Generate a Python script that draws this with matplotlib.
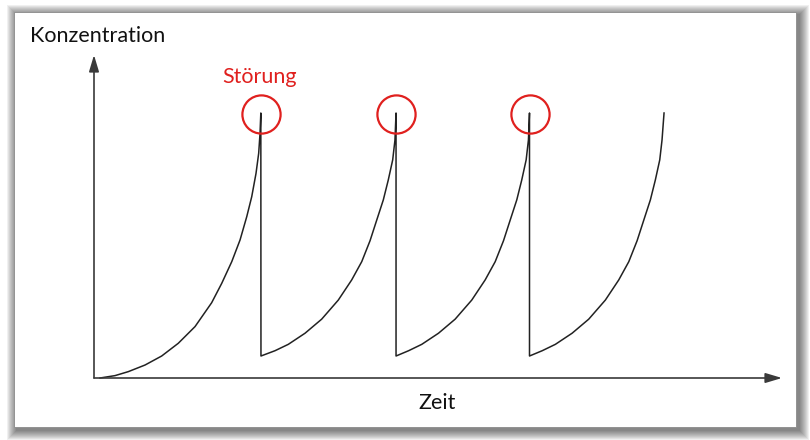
import matplotlib
matplotlib.use("Agg")
import matplotlib.pyplot as plt
from matplotlib.patches import Rectangle

# ---- data (time in periods, concentration relative to peak) ----
seg1_t = [0.045, 0.157, 0.256, 0.381, 0.505, 0.629, 0.754, 0.878, 0.953, 1.028,
          1.090, 1.140, 1.177, 1.209, 1.229, 1.239, 1.245]
seg1_c = [0.0, 0.009, 0.024, 0.049, 0.083, 0.131, 0.194, 0.284, 0.357, 0.439,
          0.521, 0.609, 0.684, 0.772, 0.848, 0.923, 1.0]

seg2_t = [1.246, 1.351, 1.450, 1.575, 1.699, 1.823, 1.923, 1.998, 2.060, 2.110,
          2.159, 2.196, 2.229, 2.246, 2.254]
seg2_c = [0.083, 0.103, 0.127, 0.169, 0.222, 0.294, 0.370, 0.439, 0.518, 0.596,
          0.672, 0.747, 0.823, 0.898, 1.0]

seg3_t = [2.254, 2.348, 2.446, 2.571, 2.695, 2.819, 2.919, 2.994, 3.056, 3.106,
          3.155, 3.192, 3.225, 3.242, 3.250]
seg3_c = [0.083, 0.103, 0.127, 0.169, 0.222, 0.294, 0.370, 0.439, 0.518, 0.596,
          0.672, 0.747, 0.823, 0.898, 1.0]

seg4_t = [3.250, 3.345, 3.443, 3.568, 3.692, 3.816, 3.916, 3.991, 4.053, 4.103,
          4.152, 4.189, 4.222, 4.239, 4.254]
seg4_c = [0.083, 0.103, 0.127, 0.169, 0.222, 0.294, 0.370, 0.439, 0.518, 0.596,
          0.672, 0.747, 0.823, 0.898, 1.0]

stoer_t = [1.245, 2.254, 3.250]
stoer_c = [0.995, 0.995, 0.995]

x_label = "Zeit"
y_label = "Konzentration"
stoer_label = "Störung"

W, H = 810, 440
fig = plt.figure(figsize=(W / 100, H / 100), dpi=100)
fig.patch.set_facecolor("white")

def fx(px):
    return px / W

def fy(py):
    return 1 - py / H

# frame with soft shadow
bx0, by0, bx1, by1 = 14, 12, 796, 427
for k in range(10):
    g = 10 - k
    fig.patches.append(Rectangle((fx(bx0 + 3 - g), fy(by1 + 3 + g)),
                                 (bx1 - bx0 + 2 * g) / W, (by1 - by0 + 2 * g) / H,
                                 transform=fig.transFigure, facecolor="black",
                                 edgecolor="none", alpha=0.06, zorder=-10))
fig.patches.append(Rectangle((fx(bx0), fy(by1)), (bx1 - bx0) / W, (by1 - by0) / H,
                             transform=fig.transFigure, facecolor="white",
                             edgecolor="#8a8a8a", linewidth=0.6, zorder=-5))

# axes: origin at pixel (94, 378)
ox, oy = 94, 378
ax_w, ax_h = 782 - ox, oy - 55
ax = fig.add_axes([fx(ox), fy(oy), ax_w / W, ax_h / H])
ax.set_xlim(0, ax_w / 134)
ax.set_ylim(0, ax_h / 265)
ax.axis("off")
ax.patch.set_alpha(0)

xmax = ax.get_xlim()[1]
ymax = ax.get_ylim()[1]
arrow = dict(arrowstyle="-|>,head_length=1.0,head_width=0.3", color="#3a3a3a",
             lw=1.2, shrinkA=0, shrinkB=0)
ax.annotate("", xy=(xmax, 0), xytext=(0, 0), arrowprops=arrow, annotation_clip=False)
ax.annotate("", xy=(0, ymax), xytext=(0, 0), arrowprops=arrow, annotation_clip=False)

t_all = seg1_t + seg2_t + seg3_t + seg4_t
c_all = seg1_c + seg2_c + seg3_c + seg4_c
ax.plot(t_all, c_all, color="#222222", lw=1.1, solid_joinstyle="round", clip_on=False)

ax.plot(stoer_t, stoer_c, linestyle="none", marker="o", markersize=27.5,
        markerfacecolor="none", markeredgecolor="#e0201e", markeredgewidth=1.6,
        clip_on=False)

font = ["Lato", "DejaVu Sans"]
fig.text(fx(30), fy(36), y_label, ha="left", va="center", fontsize=15.5,
         family=font, color="#111111")
fig.text(fx(260), fy(77), stoer_label, ha="center", va="center", fontsize=15.5,
         family=font, color="#e0201e")
fig.text(fx(437), fy(403), x_label, ha="center", va="center", fontsize=15.5,
         family=font, color="#111111")

fig.savefig("out.png", dpi=100, facecolor="white")
